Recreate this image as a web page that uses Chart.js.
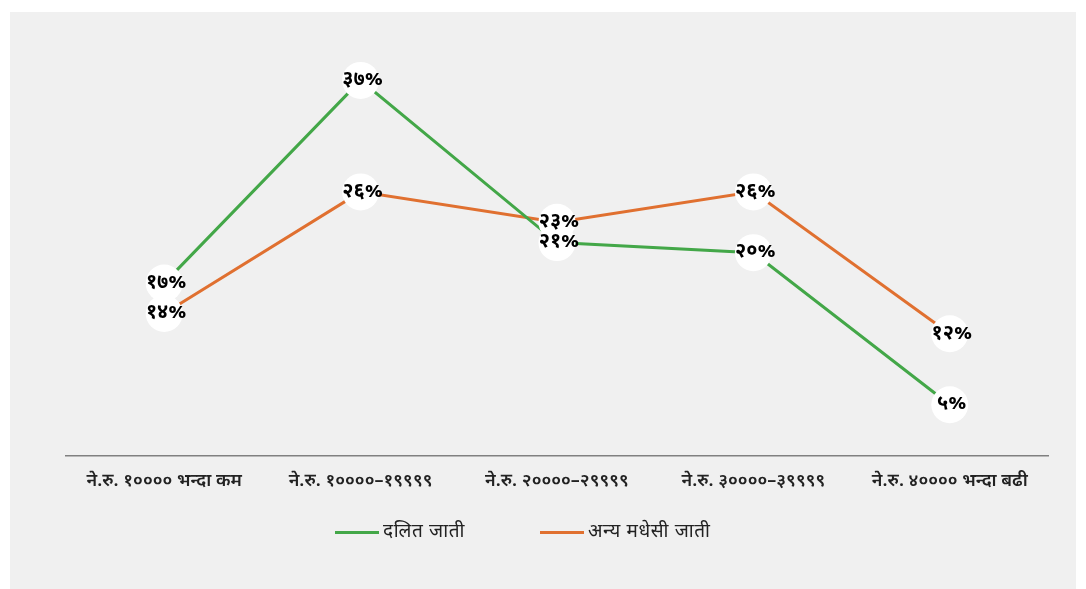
<!DOCTYPE html>
<html>
<head>
<meta charset="utf-8">
<script src="https://cdn.jsdelivr.net/npm/chart.js@4.4.1/dist/chart.umd.min.js"></script>
<style>
  body { margin: 0; background: #fff; font-family: "Noto Sans Devanagari", "Noto Sans", sans-serif; }
  #wrap { position: absolute; left: 10px; top: 12px; width: 1066px; height: 577px; background: #f0f0f0; }
  #legend { position: absolute; top: 507px; left: 0; width: 100%; height: 26px; font-size: 19px; color: #222; letter-spacing: 0.6px; }
  .item { position: absolute; display: flex; align-items: center; white-space: nowrap; height: 26px; }
  .swatch { display: inline-block; width: 44px; height: 3px; margin-right: 4px; }
</style>
</head>
<body>
<div id="wrap">
  <canvas id="grafico" width="1066" height="577"></canvas>
  <div id="legend"></div>
</div>
<script>
// categorias de ingreso mensual
const categorias = ['ने.रु. १०००० भन्दा कम', 'ने.रु. १००००–१९९९९', 'ने.रु. २००००–२९९९९', 'ने.रु. ३००००–३९९९९', 'ने.रु. ४०००० भन्दा बढी'];
const nombresSeries = ['दलित जाती', 'अन्य मधेसी जाती'];
const dalit = [17, 37, 21, 20, 5];
const madhesi = [14, 26, 23, 26, 12];
const colores = ['#43a748', '#e07030'];

const digitos = ['०', '१', '२', '३', '४', '५', '६', '७', '८', '९'];
function devanagari(n) {
  return String(n).split('').map(d => digitos[+d] || d).join('') + '%';
}

// circulos blancos y etiquetas encima de las lineas
const etiquetas = {
  id: 'etiquetas',
  afterDatasetsDraw(chart) {
    const ctx = chart.ctx;
    const metas = chart.data.datasets.map((d, i) => chart.getDatasetMeta(i));
    ctx.save();
    ctx.fillStyle = '#ffffff';
    metas.forEach(meta => {
      meta.data.forEach(p => {
        ctx.beginPath();
        ctx.arc(p.x, p.y, 18.5, 0, Math.PI * 2);
        ctx.fill();
      });
    });
    ctx.fillStyle = '#000';
    ctx.font = 'bold 20px "Noto Sans Devanagari", "Noto Sans", sans-serif';
    ctx.textAlign = 'center';
    ctx.textBaseline = 'middle';
    metas.forEach((meta, i) => {
      meta.data.forEach((p, j) => {
        ctx.fillText(devanagari(chart.data.datasets[i].data[j]), p.x + 2, p.y + 1);
      });
    });
    ctx.restore();
  }
};

const ctx = document.getElementById('grafico').getContext('2d');
new Chart(ctx, {
  type: 'line',
  data: {
    labels: categorias,
    datasets: [
      { label: nombresSeries[0], data: dalit, borderColor: colores[0], backgroundColor: colores[0], borderWidth: 3, pointRadius: 0, clip: false },
      { label: nombresSeries[1], data: madhesi, borderColor: colores[1], backgroundColor: colores[1], borderWidth: 3, pointRadius: 0, clip: false }
    ]
  },
  options: {
    responsive: false,
    animation: false,
    layout: { padding: { left: 56, right: 28, top: 38, bottom: 88 } },
    plugins: { legend: { display: false }, tooltip: { enabled: false } },
    scales: {
      x: {
        offset: true,
        grid: { display: false },
        border: { display: true, color: '#808080', width: 1.5 },
        ticks: {
          padding: 8,
          color: '#222',
          maxRotation: 0,
          font: { family: '"Noto Sans Devanagari", "Noto Sans", sans-serif', size: 18, weight: '600' }
        }
      },
      y: { display: false, min: 0, max: 40 }
    }
  },
  plugins: [etiquetas]
});

// leyenda
const leyenda = document.getElementById('legend');
const posiciones = [325, 530];
nombresSeries.forEach((nombre, i) => {
  const item = document.createElement('div');
  item.className = 'item';
  item.style.left = posiciones[i] + 'px';
  item.innerHTML = '<span class="swatch" style="background:' + colores[i] + '"></span><span>' + nombre + '</span>';
  leyenda.appendChild(item);
});
</script>
</body>
</html>
